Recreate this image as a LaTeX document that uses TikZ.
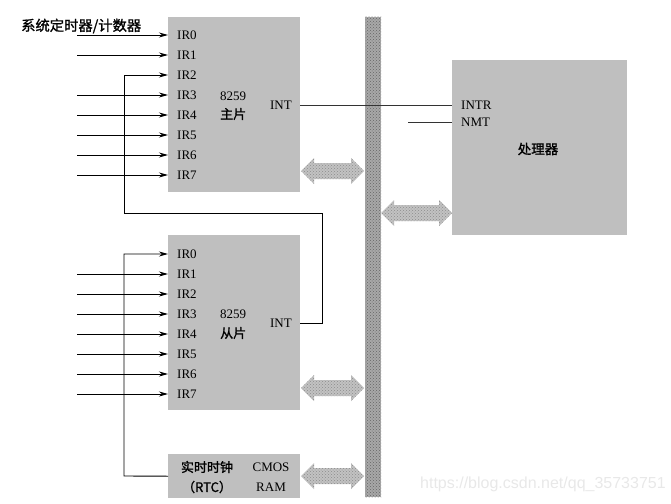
\documentclass[tikz,border=0pt]{standalone}
\usepackage{fontspec}
\setmainfont{Liberation Serif}
\newfontfamily\cjk[FakeBold=1.2]{Noto Sans CJK SC}
\newfontfamily\wmfont{Liberation Sans}
\usetikzlibrary{arrows.meta,patterns}
\newcommand\fatarrow[3]{%
  \path[fat] (#1,#3) -- ({#1+13},{#3-13}) -- ({#1+13},{#3-8}) -- ({#2-13},{#3-8})
    -- ({#2-13},{#3-13}) -- (#2,#3) -- ({#2-13},{#3+13}) -- ({#2-13},{#3+8})
    -- ({#1+13},{#3+8}) -- ({#1+13},{#3+13}) -- cycle;}
\begin{document}
\begin{tikzpicture}[x=1pt,y=-1pt,
  box/.style={fill=black!25,draw=none,anchor=north west,inner sep=0pt},
  lbl/.style={font=\fontsize{13}{13}\selectfont,inner sep=0pt,anchor=west},
  clbl/.style={font=\cjk\fontsize{13}{13}\selectfont,inner sep=0pt},
  arr/.style={line width=0.9pt,-{Stealth[length=9pt,width=5pt]}},
  wire/.style={line width=0.9pt},
  fat/.style={preaction={fill=black!24},pattern=crosshatch dots,pattern color=black!45},
  busfill/.style={preaction={fill=black!34},pattern=crosshatch dots,pattern color=black!60}]
\useasboundingbox (0,0) rectangle (671,503);

% bus
\path[busfill] (365,17) rectangle (381,497);

% boxes
\node[box,minimum width=132pt,minimum height=175pt] (master) at (168,17) {};
\node[box,minimum width=132pt,minimum height=175pt] (slave) at (168,235) {};
\node[box,minimum width=132pt,minimum height=44pt] (rtc) at (168,454) {};
\node[box,minimum width=175pt,minimum height=175pt] (proc) at (452,60) {};

% title
\node[clbl,anchor=west,font=\cjk\fontsize{14.3}{14.3}\selectfont] (title) at (21,26) {系统定时器/计数器};

% IR labels and input arrows
\foreach \i in {0,...,7}{
  \node[lbl] (m\i) at (177,{35+20*\i}) {IR\i};
  \node[lbl] (s\i) at (177,{254+20*\i}) {IR\i};
}
\foreach \i in {0,1,3,4,5,6,7}{
  \coordinate (mf\i) at (77,{35+20*\i});
  \draw[arr] (mf\i) -- (master.west |- m\i);
}
\foreach \i in {1,...,7}{
  \coordinate (sf\i) at (77,{254+20*\i});
  \draw[arr] (sf\i) -- (slave.west |- s\i);
}

% chip labels
\node[lbl] (m8259) at (220,96) {8259};
\node[clbl,anchor=west] (mzhu) at (220,114) {主片};
\node[lbl,anchor=east] (mint) at (292,105) {INT};
\node[lbl] (s8259) at (220,314) {8259};
\node[clbl,anchor=west] (scong) at (220,333) {从片};
\node[lbl,anchor=east] (sint) at (292,323) {INT};

\node[clbl] (rtcl1) at (207,467) {实时时钟};
\node[clbl] (rtcl2) at (207,487) {（RTC）};
\node[lbl,anchor=center] (cmos) at (271,467) {CMOS};
\node[lbl,anchor=center] (ram) at (271,487) {RAM};

\node[lbl] (intr) at (461,105) {INTR};
\node[lbl] (nmt) at (461,122) {NMT};
\node[clbl,font=\cjk\fontsize{13.5}{13.5}\selectfont] (cpu) at (538,149) {处理器};

% cascade wire: slave INT -> master IR2
\coordinate (k1) at (322,323);
\coordinate (k2) at (322,213);
\coordinate (k3) at (124,213);
\draw[arr] (slave.east |- sint) -- (k1) -- (k2) -- (k3) -- (k3 |- m2) -- (master.west |- m2);

% RTC -> slave IR0
\coordinate (r1) at (124,476);
\draw[arr] (rtc.west) -- (r1) -- (r1 |- s0) -- (slave.west |- s0);

% INT -> INTR
\draw[line width=1pt,black!80] (master.east |- mint) -- (proc.west |- intr);
\coordinate (nmtfree) at (408,122);
\draw[line width=1pt,black!80] (nmtfree) -- (proc.west |- nmt);

% fat bus arrows
\fatarrow{301}{364}{171}
\fatarrow{381}{452}{213}
\fatarrow{301}{364}{388}
\fatarrow{301}{364}{476}

% watermark
\node[font=\wmfont\fontsize{16}{16}\selectfont,text=black!9,inner sep=0pt,anchor=west] (wm) at (420,484) {https://blog.csdn.net/qq\_35733751};
\end{tikzpicture}
\end{document}
